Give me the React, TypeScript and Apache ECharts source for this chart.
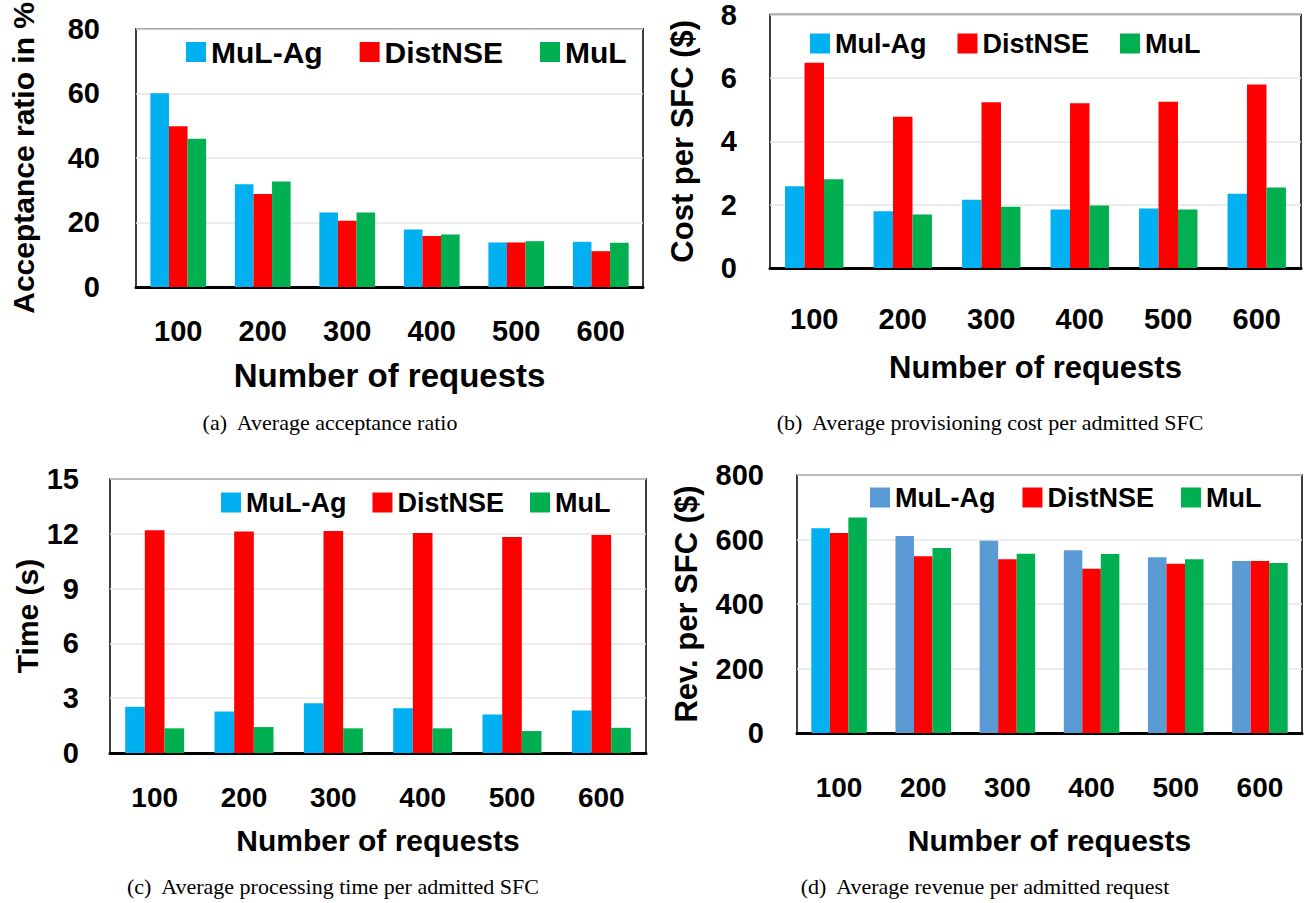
import React, { useEffect, useRef } from "react";
import * as echarts from "echarts";

const categories = ["100", "200", "300", "400", "500", "600"];

// (a) Average acceptance ratio (%)
const accMulAg = [60, 31.8, 23.1, 17.8, 13.8, 14.0];
const accDist = [49.8, 28.8, 20.5, 15.8, 13.8, 11.1];
const accMul = [45.9, 32.7, 23.1, 16.3, 14.2, 13.7];

// (b) Cost per SFC ($)
const costMulAg = [2.58, 1.79, 2.15, 1.85, 1.88, 2.34];
const costDist = [6.48, 4.77, 5.23, 5.2, 5.25, 5.79];
const costMul = [2.8, 1.69, 1.93, 1.97, 1.85, 2.54];

// (c) Processing time (s)
const timeMulAg = [2.53, 2.27, 2.73, 2.45, 2.11, 2.33];
const timeDist = [12.2, 12.13, 12.16, 12.04, 11.82, 11.93];
const timeMul = [1.35, 1.42, 1.35, 1.35, 1.2, 1.38];

// (d) Revenue per SFC ($)
const revMulAg = [635, 611, 596, 567, 545, 533];
const revDist = [620, 548, 539, 509, 525, 533];
const revMul = [668, 574, 556, 555, 539, 527];

const CYAN = "#00b0f0";
const RED = "#ff0000";
const GREEN = "#00b050";
const STEEL = "#5b9bd5";
const FONT = "'Liberation Sans', Arial, sans-serif";
const SERIF = "'Liberation Serif', 'Times New Roman', serif";

export default function App() {
  const ref = useRef<HTMLDivElement>(null);
  useEffect(() => {
    document.body.style.margin = "0";
    const chart = echarts.init(ref.current!, undefined, { renderer: "svg" });

    const grids = [
      { left: 136, top: 22, width: 507, height: 265 },
      { left: 770, top: 13, width: 531, height: 255 },
      { left: 110, top: 479, width: 536, height: 274 },
      { left: 797, top: 475, width: 505, height: 258 },
    ].map((g) => ({ ...g, show: true, borderColor: "#000", borderWidth: 1.5, containLabel: false }));

    const xCfg = [
      { margin: 29, nameGap: 72, nameSize: 33, labelSize: 29 },
      { margin: 36, nameGap: 84, nameSize: 31, labelSize: 29 },
      { margin: 30, nameGap: 72, nameSize: 30, labelSize: 28 },
      { margin: 40, nameGap: 92, nameSize: 30, labelSize: 28 },
    ];
    const xAxis = xCfg.map((c, i) => ({
      type: "category",
      gridIndex: i,
      data: categories,
      axisTick: { show: false },
      axisLine: { show: true, lineStyle: { color: "#000", width: 3 } },
      axisLabel: { margin: c.margin, fontSize: c.labelSize, fontWeight: "bold", color: "#000", fontFamily: FONT },
      name: "Number of requests",
      nameLocation: "middle",
      nameGap: c.nameGap,
      nameTextStyle: { fontSize: c.nameSize, fontWeight: "bold", color: "#000", fontFamily: FONT },
    }));

    const yCfg = [
      { max: 80, interval: 20, name: "Acceptance ratio in %", margin: 36, nameGap: 98, nameSize: 30 },
      { max: 8, interval: 2, name: "Cost per SFC ($)", margin: 33, nameGap: 72, nameSize: 31 },
      { max: 15, interval: 3, name: "Time (s)", margin: 31, nameGap: 68, nameSize: 30 },
      { max: 800, interval: 200, name: "Rev. per SFC ($)", margin: 33, nameGap: 95, nameSize: 31 },
    ];
    const yAxis = yCfg.map((c, i) => ({
      type: "value",
      gridIndex: i,
      min: 0,
      max: c.max,
      interval: c.interval,
      axisLine: { show: false },
      axisTick: { show: false },
      splitLine: { show: true, lineStyle: { color: "#e6e6e6", width: 1.5 } },
      axisLabel: { margin: c.margin, fontSize: 29, fontWeight: "bold", color: "#000", fontFamily: FONT },
      name: c.name,
      nameLocation: "middle",
      nameGap: c.nameGap,
      nameTextStyle: { fontSize: c.nameSize, fontWeight: "bold", color: "#000", fontFamily: FONT },
    }));

    const bar = (name: string, i: number, data: any[], color: string) => ({
      type: "bar",
      name,
      xAxisIndex: i,
      yAxisIndex: i,
      data,
      barGap: "0%",
      barCategoryGap: "34%",
      itemStyle: { color },
    });

    const revMulAgData = revMulAg.map((v, k) => (k === 0 ? { value: v, itemStyle: { color: CYAN } } : v));

    const series = [
      bar("MuL-Ag", 0, accMulAg, CYAN),
      bar("DistNSE", 0, accDist, RED),
      bar("MuL", 0, accMul, GREEN),
      bar("Mul-Ag", 1, costMulAg, CYAN),
      bar("DistNSE", 1, costDist, RED),
      bar("MuL", 1, costMul, GREEN),
      bar("MuL-Ag", 2, timeMulAg, CYAN),
      bar("DistNSE", 2, timeDist, RED),
      bar("MuL", 2, timeMul, GREEN),
      bar("MuL-Ag", 3, revMulAgData, STEEL),
      bar("DistNSE", 3, revDist, RED),
      bar("MuL", 3, revMul, GREEN),
    ];

    const legendCfg = [
      { left: 186, top: 37, size: 30, gap: 37, first: "MuL-Ag", firstColor: CYAN },
      { left: 810, top: 30, size: 27, gap: 31, first: "Mul-Ag", firstColor: CYAN },
      { left: 221, top: 489, size: 27, gap: 26, first: "MuL-Ag", firstColor: CYAN },
      { left: 870, top: 484, size: 27, gap: 27, first: "MuL-Ag", firstColor: STEEL },
    ];
    const legend = legendCfg.map((c) => ({
      left: c.left,
      top: c.top,
      padding: 0,
      orient: "horizontal",
      itemWidth: 20,
      itemHeight: 20,
      itemGap: c.gap,
      icon: "rect",
      selectedMode: false,
      textStyle: { fontSize: c.size, fontWeight: "bold", color: "#000", fontFamily: FONT },
      data: [
        { name: c.first, itemStyle: { color: c.firstColor } },
        { name: "DistNSE", itemStyle: { color: RED } },
        { name: "MuL", itemStyle: { color: GREEN } },
      ],
    }));

    const captions = [
      { text: "(a)  Average acceptance ratio", x: 330, y: 424 },
      { text: "(b)  Average provisioning cost per admitted SFC", x: 990, y: 424 },
      { text: "(c)  Average processing time per admitted SFC", x: 333, y: 888 },
      { text: "(d)  Average revenue per admitted request", x: 985, y: 888 },
    ];
    const title = captions.map((c) => ({
      text: c.text,
      left: c.x,
      top: c.y - 13,
      textAlign: "center",
      padding: 0,
      textStyle: { fontSize: 22, fontWeight: "normal", color: "#000", fontFamily: SERIF },
    }));

    chart.setOption({
      animation: false,
      backgroundColor: "#fff",
      title,
      legend,
      grid: grids,
      xAxis,
      yAxis,
      series,
    });
    return () => chart.dispose();
  }, []);
  return <div ref={ref} style={{ width: 1305, height: 903 }} />;
}
